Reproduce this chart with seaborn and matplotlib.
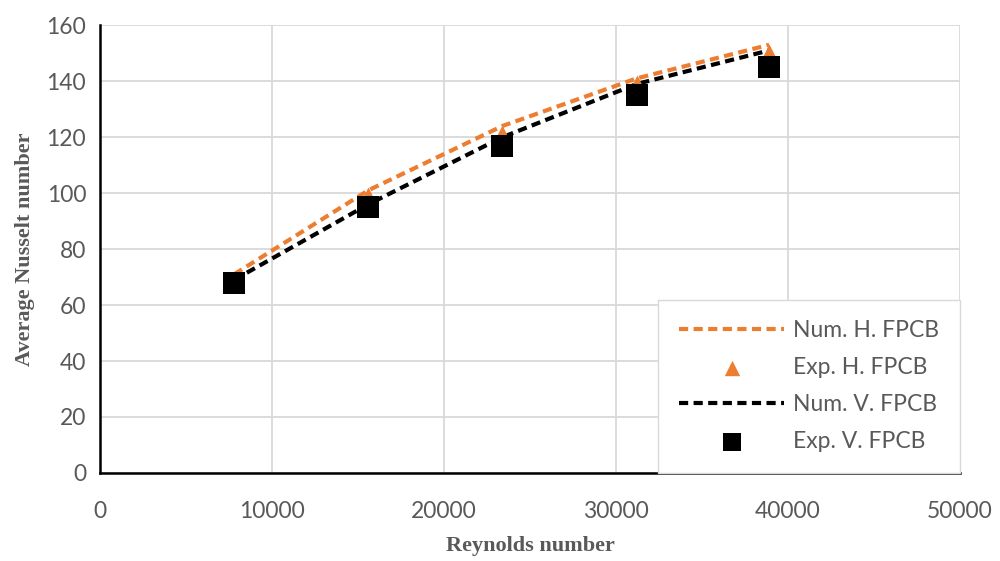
import pandas as pd
import seaborn as sns
import matplotlib.pyplot as plt

reynolds = [7800, 15600, 23400, 31200, 38900]
num_h = [71, 101, 124, 141, 153]
exp_h = [68, 99, 121, 139, 150]
num_v = [69, 96, 120, 139, 151]
exp_v = [68, 95, 117, 135, 145]

orange = "#ED7D31"

sns.set_style("white")
plt.rcParams["font.family"] = ["Lato", "DejaVu Sans"]

fig = plt.figure(figsize=(10, 5.61), dpi=100)
ax = fig.add_axes([0.1, 0.157, 0.86, 0.798])

df = pd.DataFrame({"Re": reynolds, "num_h": num_h, "exp_h": exp_h,
                   "num_v": num_v, "exp_v": exp_v})

sns.lineplot(data=df, x="Re", y="num_h", ax=ax, color=orange, lw=3,
             linestyle=(0, (2.2, 1.3)), label="Num. H. FPCB")
sns.scatterplot(data=df, x="Re", y="exp_h", ax=ax, color=orange, marker="^",
                s=170, edgecolor=orange, linewidth=0, label="Exp. H. FPCB", zorder=3)
sns.lineplot(data=df, x="Re", y="num_v", ax=ax, color="black", lw=3,
             linestyle=(0, (2.2, 1.3)), label="Num. V. FPCB")
sns.scatterplot(data=df, x="Re", y="exp_v", ax=ax, color="black", marker="s",
                s=230, edgecolor="black", linewidth=0, label="Exp. V. FPCB", zorder=4)

ax.set_xlim(0, 50000)
ax.set_ylim(0, 160)
ax.set_xticks(range(0, 50001, 10000))
ax.set_yticks(range(0, 161, 20))
ax.grid(True, color="#d9d9d9", lw=1.3)
ax.set_axisbelow(True)
for s in ["top", "right"]:
    ax.spines[s].set_visible(False)
for s in ["left", "bottom"]:
    ax.spines[s].set_color("black")
    ax.spines[s].set_linewidth(1.8)
ax.tick_params(axis="both", length=0, labelsize=16.5, labelcolor="#595959")
ax.tick_params(axis="x", pad=20)
ax.tick_params(axis="y", pad=10)

ax.set_xlabel("Reynolds number", fontsize=16, fontweight="bold", color="#595959",
              family="Liberation Serif", labelpad=10)
ax.set_ylabel("Average Nusselt number", fontsize=16, fontweight="bold", color="#595959",
              family="Liberation Serif", labelpad=8)

leg = ax.legend(loc="lower right", bbox_to_anchor=(1.0, 0.0), fontsize=16.5,
                frameon=True, fancybox=False, edgecolor="#d9d9d9", framealpha=1,
                labelspacing=0.7, handlelength=4.6, handletextpad=0.4,
                borderpad=0.9, borderaxespad=0, markerscale=0.85)
for t in leg.get_texts():
    t.set_color("#595959")

fig.savefig("out.png", dpi=100)
